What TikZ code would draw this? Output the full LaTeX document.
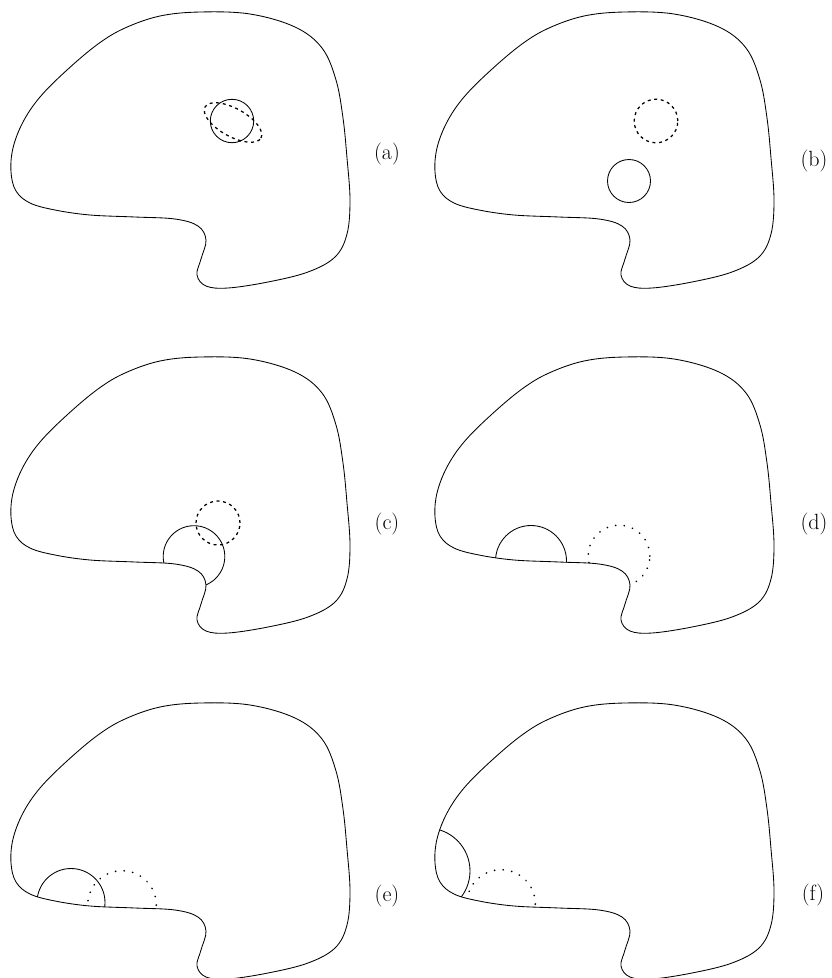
\documentclass[tikz,border=0pt]{standalone}
\usepackage{fontspec}
\begin{document}
\tikzset{
  blobline/.style={line width=0.85pt},
  solidc/.style={line width=0.85pt},
  dashc/.style={line width=1.25pt, dash pattern=on 3pt off 3.6pt},
  dotc/.style={line width=1.9pt, dash pattern=on 0.01pt off 8.6pt, line cap=round},
  lab/.style={font=\fontsize{22}{26}\selectfont, inner sep=0pt}
}
\newcommand\blobshape{plot[smooth cycle, tension=0.6] coordinates {
  (200,12) (250,14) (295,27) (322,48) (336,80) (343,118)
  (347,158) (350,200) (347,234) (335,257) (308,272) (268,282)
  (228,288) (206,286) (197,275) (201,259) (206,240)
  (198,226) (175,219) (135,217) (90,215) (55,210) (30,203) (16,191) (11,172)
  (13,148) (23,122) (40,97) (67,70) (98,44) (125,28) (160,16)}}
\begin{tikzpicture}[x=1pt,y=-1pt]
\useasboundingbox (0,0) rectangle (832,978);
% (a)
\begin{scope}[shift={(0,0)}]
  \draw[blobline] \blobshape;
  \draw[solidc] (232,121) circle (21.7pt);
  \draw[dashc, rotate around={-29:(233,122.5)}] (233,122.5) ellipse (32pt and 14pt);
\end{scope}
\node[lab] (la) at (387,154) {(a)};
% (b)
\begin{scope}[shift={(424,0)}]
  \draw[blobline] \blobshape;
  \draw[dashc] (232,121) circle (21.8pt);
  \draw[solidc] (205,181) circle (21.5pt);
\end{scope}
\node[lab] (lb) at (814,161) {(b)};
% (c)
\begin{scope}[shift={(0,345)}]
  \draw[blobline] \blobshape;
  \draw[dashc] (218,178) circle (22pt);
  \begin{scope}
    \clip \blobshape;
    \draw[solidc] (194,211.5) circle (30.8pt);
  \end{scope}
\end{scope}
\node[lab] (lc) at (387,524) {(c)};
% (d)
\begin{scope}[shift={(424,345)}]
  \draw[blobline] \blobshape;
  \begin{scope}
    \clip \blobshape;
    \draw[solidc] (107,216) circle (35.5pt);
    \draw[dotc] (195,211) circle (30.8pt);
  \end{scope}
\end{scope}
\node[lab] (ld) at (814,524) {(d)};
% (e)
\begin{scope}[shift={(0,691)}]
  \draw[blobline] \blobshape;
  \begin{scope}
    \clip \blobshape;
    \draw[solidc] (71,211.5) circle (34pt);
    \draw[dotc] (122,214) circle (34.3pt);
  \end{scope}
\end{scope}
\node[lab] (le) at (387,896) {(e)};
% (f)
\begin{scope}[shift={(424,691)}]
  \draw[blobline] \blobshape;
  \begin{scope}
    \clip \blobshape;
    \draw[solidc] (3,180) circle (43pt);
    \draw[dotc] (77,213) circle (34.3pt);
  \end{scope}
\end{scope}
\node[lab] (lf) at (813,895) {(f)};
\end{tikzpicture}
\end{document}
